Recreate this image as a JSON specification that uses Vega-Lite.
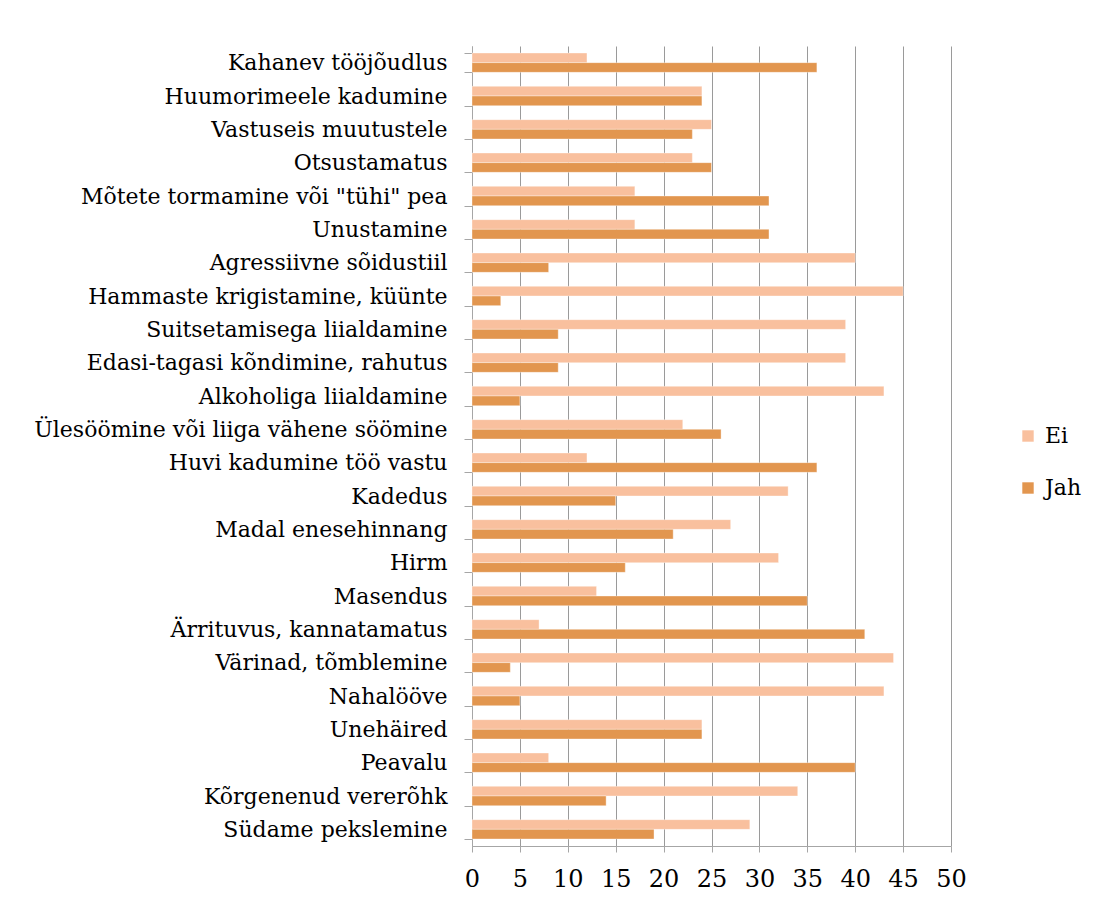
{
  "$schema": "https://vega.github.io/schema/vega-lite/v6.json",
  "autosize": {"type": "none"},
  "padding": {"left": 472, "top": 46, "right": 147, "bottom": 59},
  "width": 479,
  "height": 800,
  "background": "white",
  "data": {"values": [
    {"s": "Kahanev tööjõudlus", "a": "Ei", "v": 12}, {"s": "Kahanev tööjõudlus", "a": "Jah", "v": 36},
    {"s": "Huumorimeele kadumine", "a": "Ei", "v": 24}, {"s": "Huumorimeele kadumine", "a": "Jah", "v": 24},
    {"s": "Vastuseis muutustele", "a": "Ei", "v": 25}, {"s": "Vastuseis muutustele", "a": "Jah", "v": 23},
    {"s": "Otsustamatus", "a": "Ei", "v": 23}, {"s": "Otsustamatus", "a": "Jah", "v": 25},
    {"s": "Mõtete tormamine või \"tühi\" pea", "a": "Ei", "v": 17}, {"s": "Mõtete tormamine või \"tühi\" pea", "a": "Jah", "v": 31},
    {"s": "Unustamine", "a": "Ei", "v": 17}, {"s": "Unustamine", "a": "Jah", "v": 31},
    {"s": "Agressiivne sõidustiil", "a": "Ei", "v": 40}, {"s": "Agressiivne sõidustiil", "a": "Jah", "v": 8},
    {"s": "Hammaste krigistamine, küünte", "a": "Ei", "v": 45}, {"s": "Hammaste krigistamine, küünte", "a": "Jah", "v": 3},
    {"s": "Suitsetamisega liialdamine", "a": "Ei", "v": 39}, {"s": "Suitsetamisega liialdamine", "a": "Jah", "v": 9},
    {"s": "Edasi-tagasi kõndimine, rahutus", "a": "Ei", "v": 39}, {"s": "Edasi-tagasi kõndimine, rahutus", "a": "Jah", "v": 9},
    {"s": "Alkoholiga liialdamine", "a": "Ei", "v": 43}, {"s": "Alkoholiga liialdamine", "a": "Jah", "v": 5},
    {"s": "Ülesöömine või liiga vähene söömine", "a": "Ei", "v": 22}, {"s": "Ülesöömine või liiga vähene söömine", "a": "Jah", "v": 26},
    {"s": "Huvi kadumine töö vastu", "a": "Ei", "v": 12}, {"s": "Huvi kadumine töö vastu", "a": "Jah", "v": 36},
    {"s": "Kadedus", "a": "Ei", "v": 33}, {"s": "Kadedus", "a": "Jah", "v": 15},
    {"s": "Madal enesehinnang", "a": "Ei", "v": 27}, {"s": "Madal enesehinnang", "a": "Jah", "v": 21},
    {"s": "Hirm", "a": "Ei", "v": 32}, {"s": "Hirm", "a": "Jah", "v": 16},
    {"s": "Masendus", "a": "Ei", "v": 13}, {"s": "Masendus", "a": "Jah", "v": 35},
    {"s": "Ärrituvus, kannatamatus", "a": "Ei", "v": 7}, {"s": "Ärrituvus, kannatamatus", "a": "Jah", "v": 41},
    {"s": "Värinad, tõmblemine", "a": "Ei", "v": 44}, {"s": "Värinad, tõmblemine", "a": "Jah", "v": 4},
    {"s": "Nahalööve", "a": "Ei", "v": 43}, {"s": "Nahalööve", "a": "Jah", "v": 5},
    {"s": "Unehäired", "a": "Ei", "v": 24}, {"s": "Unehäired", "a": "Jah", "v": 24},
    {"s": "Peavalu", "a": "Ei", "v": 8}, {"s": "Peavalu", "a": "Jah", "v": 40},
    {"s": "Kõrgenenud vererõhk", "a": "Ei", "v": 34}, {"s": "Kõrgenenud vererõhk", "a": "Jah", "v": 14},
    {"s": "Südame pekslemine", "a": "Ei", "v": 29}, {"s": "Südame pekslemine", "a": "Jah", "v": 19}
  ]},
  "mark": {"type": "bar", "stroke": "white", "strokeWidth": 0.6, "strokeOpacity": 0.6},
  "encoding": {
    "y": {
      "field": "s", "type": "nominal", "sort": null, "title": null,
      "scale": {"paddingInner": 0.42, "paddingOuter": 0.21},
      "axis": {
        "labelFont": "DejaVu Serif", "labelFontSize": 22, "labelColor": "#000000",
        "labelPadding": 17, "tickSize": 8, "tickBand": "extent", "tickColor": "#a6a6a6",
        "domainColor": "#a6a6a6", "labelLimit": 500
      }
    },
    "yOffset": {"field": "a", "type": "nominal", "sort": ["Ei", "Jah"], "scale": {"paddingInner": 0}},
    "x": {
      "field": "v", "type": "quantitative", "title": null,
      "scale": {"domain": [0, 50], "nice": false},
      "axis": {
        "values": [0, 5, 10, 15, 20, 25, 30, 35, 40, 45, 50],
        "labelFont": "DejaVu Serif", "labelFontSize": 24, "labelColor": "#000000",
        "labelPadding": 15, "tickSize": 6, "tickColor": "#a6a6a6", "domainColor": "#a6a6a6",
        "grid": true, "gridColor": "#9a9a9a", "labelFlush": false
      }
    },
    "color": {
      "field": "a", "type": "nominal",
      "scale": {"domain": ["Ei", "Jah"], "range": ["#F9C09E", "#E2964F"]},
      "legend": {
        "title": null, "orient": "none", "legendX": 545, "legendY": 379,
        "symbolType": "square", "symbolSize": 130, "symbolStrokeWidth": 0,
        "labelFont": "DejaVu Serif", "labelFontSize": 22, "labelColor": "#000000",
        "rowPadding": 30, "labelOffset": 6
      }
    }
  },
  "config": {"view": {"stroke": null}}
}
